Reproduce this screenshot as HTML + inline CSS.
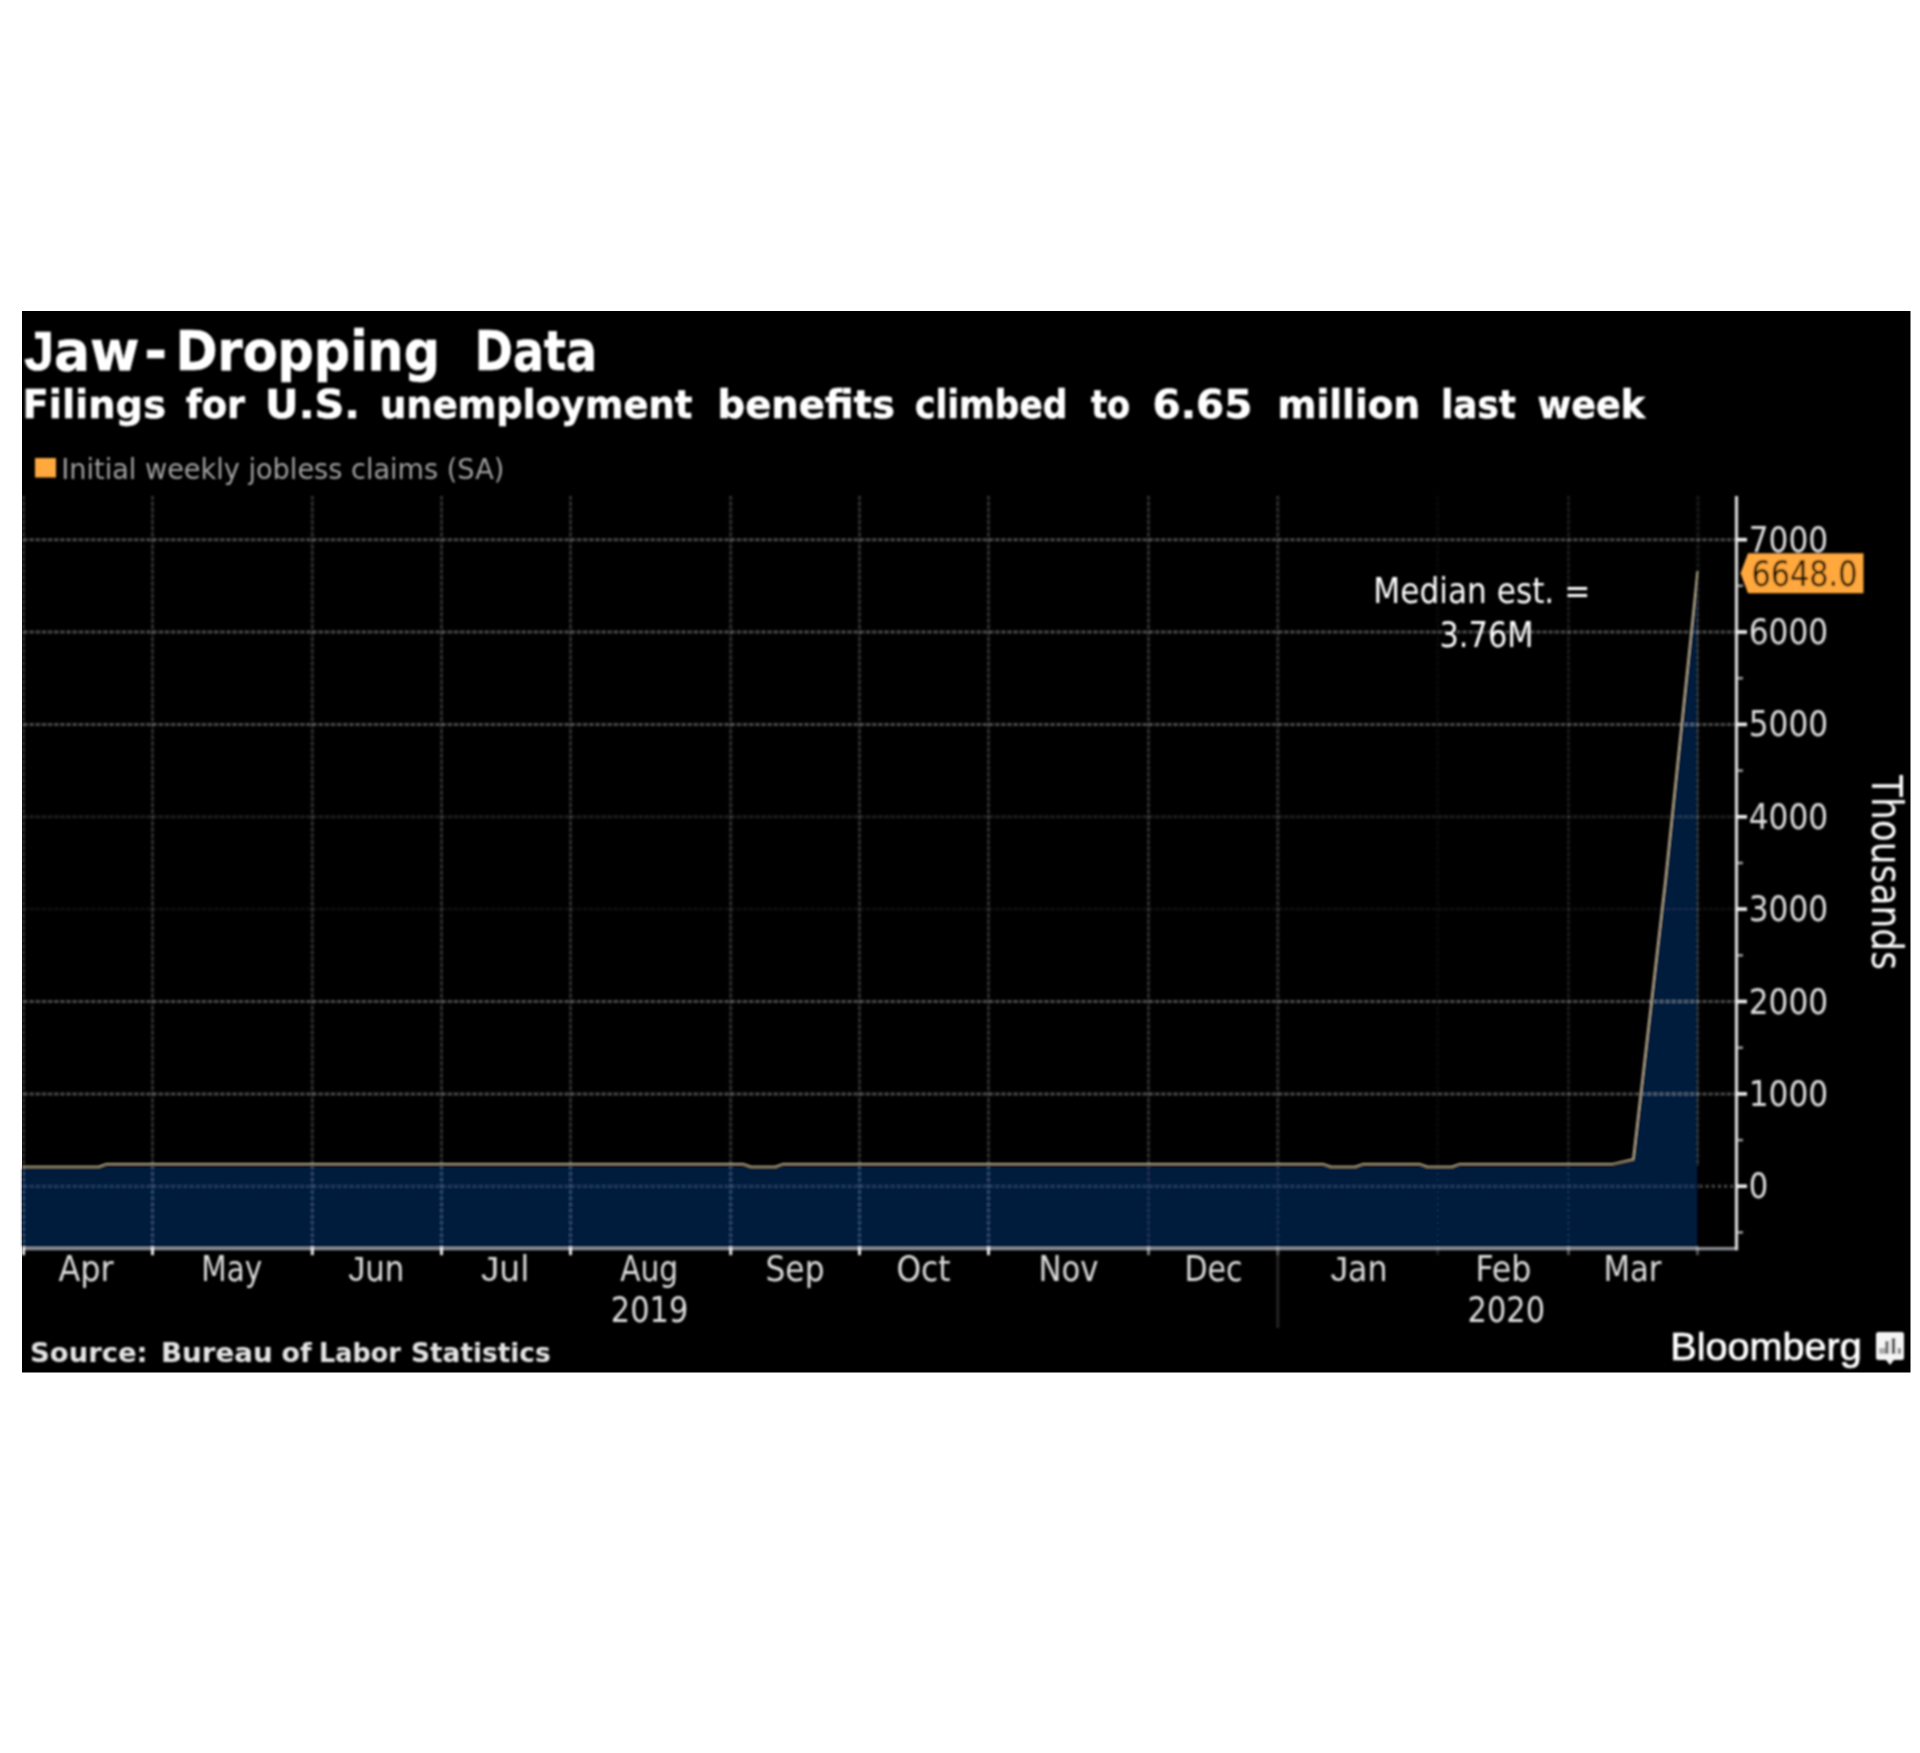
<!DOCTYPE html>
<html lang="en"><head><meta charset="utf-8"><title>Jaw-Dropping Data</title>
<style>html,body{margin:0;padding:0;background:#fff}body{width:1920px;height:1753px;overflow:hidden}svg{display:block}text{font-family:"DejaVu Sans Condensed","DejaVu Sans","Liberation Sans",sans-serif;fill:#dcdcdc}.b{font-family:"DejaVu Sans","Liberation Sans",sans-serif;font-weight:bold;fill:#fff}.ax{font-size:35.5px}</style></head><body>
<svg width="1920" height="1753" viewBox="0 0 1920 1753">
<defs><filter id="bl" x="-5%" y="-5%" width="110%" height="110%"><feGaussianBlur stdDeviation="0.9"/></filter></defs>
<rect x="0" y="0" width="1920" height="1753" fill="#fff"/>
<rect x="22" y="311" width="1888.5" height="1061.5" fill="#000"/>
<g filter="url(#bl)">
<path d="M22.0,1248.7 L22.0,1169.1 L34.1,1169.1 L42.1,1169.1 L66.3,1169.1 L74.3,1169.1 L98.6,1169.1 L106.6,1166.3 L130.8,1166.3 L138.8,1166.3 L163.0,1166.3 L171.0,1166.3 L195.2,1166.3 L203.2,1166.3 L227.4,1166.3 L235.4,1166.3 L259.7,1166.3 L267.7,1166.3 L291.9,1166.3 L299.9,1166.3 L324.1,1166.3 L332.1,1166.3 L356.3,1166.3 L364.3,1166.3 L388.5,1166.3 L396.5,1166.3 L420.8,1166.3 L428.8,1166.3 L453.0,1166.3 L461.0,1166.3 L485.2,1166.3 L493.2,1166.3 L517.4,1166.3 L525.4,1166.3 L549.6,1166.3 L557.6,1166.3 L581.9,1166.3 L589.9,1166.3 L614.1,1166.3 L622.1,1166.3 L646.3,1166.3 L654.3,1166.3 L678.5,1166.3 L686.5,1166.3 L710.8,1166.3 L718.8,1166.3 L743.0,1166.3 L751.0,1169.1 L775.2,1169.1 L783.2,1166.3 L807.4,1166.3 L815.4,1166.3 L839.6,1166.3 L847.6,1166.3 L871.9,1166.3 L879.9,1166.3 L904.1,1166.3 L912.1,1166.3 L936.3,1166.3 L944.3,1166.3 L968.5,1166.3 L976.5,1166.3 L1000.7,1166.3 L1008.7,1166.3 L1033.0,1166.3 L1041.0,1166.3 L1065.2,1166.3 L1073.2,1166.3 L1097.4,1166.3 L1105.4,1166.3 L1129.6,1166.3 L1137.6,1166.3 L1161.9,1166.3 L1169.9,1166.3 L1194.1,1166.3 L1202.1,1166.3 L1226.3,1166.3 L1234.3,1166.3 L1258.5,1166.3 L1266.5,1166.3 L1290.7,1166.3 L1298.7,1166.3 L1323.0,1166.3 L1331.0,1169.1 L1355.2,1169.1 L1363.2,1166.3 L1387.4,1166.3 L1395.4,1166.3 L1419.6,1166.3 L1427.6,1169.1 L1451.8,1169.1 L1459.8,1166.3 L1484.1,1166.3 L1492.1,1166.3 L1516.3,1166.3 L1524.3,1166.3 L1548.5,1166.3 L1556.5,1166.3 L1580.7,1166.3 L1588.7,1166.3 L1612.9,1166.3 L1633.1,1161.6 L1665.3,882.2 L1697.5,573.6 L1697.5,1248.7 Z" fill="#041d3c"/>
<line x1="22" y1="1186.2" x2="1697.5" y2="1186.2" stroke="#9ec0f5" stroke-width="3" opacity="0.06"/>
<line x1="24" y1="1186.2" x2="1697.5" y2="1186.2" stroke="#9ec0f5" stroke-width="3" stroke-dasharray="3 3.15" opacity="0.14"/>
<line x1="1699.5" y1="1186.2" x2="1736.5" y2="1186.2" stroke="#fff" stroke-width="3" stroke-dasharray="3 3.15" opacity="0.3"/>
<line x1="22" y1="1093.9" x2="1736.5" y2="1093.9" stroke="#fff" stroke-width="3" opacity="0.105"/>
<line x1="24" y1="1093.9" x2="1736.5" y2="1093.9" stroke="#fff" stroke-width="3" stroke-dasharray="3 3.15" opacity="0.23"/>
<line x1="22" y1="1001.5" x2="1736.5" y2="1001.5" stroke="#fff" stroke-width="3" opacity="0.105"/>
<line x1="24" y1="1001.5" x2="1736.5" y2="1001.5" stroke="#fff" stroke-width="3" stroke-dasharray="3 3.15" opacity="0.23"/>
<line x1="22" y1="909.1" x2="1736.5" y2="909.1" stroke="#fff" stroke-width="3" opacity="0.025"/>
<line x1="24" y1="909.1" x2="1736.5" y2="909.1" stroke="#fff" stroke-width="3" stroke-dasharray="3 3.15" opacity="0.04"/>
<line x1="22" y1="816.8" x2="1736.5" y2="816.8" stroke="#fff" stroke-width="3" opacity="0.06"/>
<line x1="24" y1="816.8" x2="1736.5" y2="816.8" stroke="#fff" stroke-width="3" stroke-dasharray="3 3.15" opacity="0.07"/>
<line x1="22" y1="724.4" x2="1736.5" y2="724.4" stroke="#fff" stroke-width="3" opacity="0.105"/>
<line x1="24" y1="724.4" x2="1736.5" y2="724.4" stroke="#fff" stroke-width="3" stroke-dasharray="3 3.15" opacity="0.23"/>
<line x1="22" y1="632.0" x2="1736.5" y2="632.0" stroke="#fff" stroke-width="3" opacity="0.105"/>
<line x1="24" y1="632.0" x2="1736.5" y2="632.0" stroke="#fff" stroke-width="3" stroke-dasharray="3 3.15" opacity="0.23"/>
<line x1="22" y1="539.7" x2="1736.5" y2="539.7" stroke="#fff" stroke-width="3" opacity="0.105"/>
<line x1="24" y1="539.7" x2="1736.5" y2="539.7" stroke="#fff" stroke-width="3" stroke-dasharray="3 3.15" opacity="0.23"/>
<line x1="23.5" y1="496" x2="23.5" y2="1166" stroke="#fff" stroke-width="3" opacity="0.078"/>
<line x1="23.5" y1="496" x2="23.5" y2="1166" stroke="#fff" stroke-width="3" stroke-dasharray="3 3.15" opacity="0.12"/>
<line x1="23.5" y1="1166" x2="23.5" y2="1248.7" stroke="#9ec0f5" stroke-width="3" opacity="0.048"/>
<line x1="23.5" y1="1166" x2="23.5" y2="1248.7" stroke="#9ec0f5" stroke-width="3" stroke-dasharray="3 3.15" opacity="0.228"/>
<line x1="152.5" y1="496" x2="152.5" y2="1166" stroke="#fff" stroke-width="3" opacity="0.078"/>
<line x1="152.5" y1="496" x2="152.5" y2="1166" stroke="#fff" stroke-width="3" stroke-dasharray="3 3.15" opacity="0.12"/>
<line x1="152.5" y1="1166" x2="152.5" y2="1248.7" stroke="#9ec0f5" stroke-width="3" opacity="0.048"/>
<line x1="152.5" y1="1166" x2="152.5" y2="1248.7" stroke="#9ec0f5" stroke-width="3" stroke-dasharray="3 3.15" opacity="0.228"/>
<line x1="312.3" y1="496" x2="312.3" y2="1166" stroke="#fff" stroke-width="3" opacity="0.078"/>
<line x1="312.3" y1="496" x2="312.3" y2="1166" stroke="#fff" stroke-width="3" stroke-dasharray="3 3.15" opacity="0.12"/>
<line x1="312.3" y1="1166" x2="312.3" y2="1248.7" stroke="#9ec0f5" stroke-width="3" opacity="0.048"/>
<line x1="312.3" y1="1166" x2="312.3" y2="1248.7" stroke="#9ec0f5" stroke-width="3" stroke-dasharray="3 3.15" opacity="0.228"/>
<line x1="441.5" y1="496" x2="441.5" y2="1166" stroke="#fff" stroke-width="3" opacity="0.078"/>
<line x1="441.5" y1="496" x2="441.5" y2="1166" stroke="#fff" stroke-width="3" stroke-dasharray="3 3.15" opacity="0.12"/>
<line x1="441.5" y1="1166" x2="441.5" y2="1248.7" stroke="#9ec0f5" stroke-width="3" opacity="0.048"/>
<line x1="441.5" y1="1166" x2="441.5" y2="1248.7" stroke="#9ec0f5" stroke-width="3" stroke-dasharray="3 3.15" opacity="0.228"/>
<line x1="570.5" y1="496" x2="570.5" y2="1166" stroke="#fff" stroke-width="3" opacity="0.078"/>
<line x1="570.5" y1="496" x2="570.5" y2="1166" stroke="#fff" stroke-width="3" stroke-dasharray="3 3.15" opacity="0.12"/>
<line x1="570.5" y1="1166" x2="570.5" y2="1248.7" stroke="#9ec0f5" stroke-width="3" opacity="0.048"/>
<line x1="570.5" y1="1166" x2="570.5" y2="1248.7" stroke="#9ec0f5" stroke-width="3" stroke-dasharray="3 3.15" opacity="0.228"/>
<line x1="730.7" y1="496" x2="730.7" y2="1166" stroke="#fff" stroke-width="3" opacity="0.078"/>
<line x1="730.7" y1="496" x2="730.7" y2="1166" stroke="#fff" stroke-width="3" stroke-dasharray="3 3.15" opacity="0.12"/>
<line x1="730.7" y1="1166" x2="730.7" y2="1248.7" stroke="#9ec0f5" stroke-width="3" opacity="0.048"/>
<line x1="730.7" y1="1166" x2="730.7" y2="1248.7" stroke="#9ec0f5" stroke-width="3" stroke-dasharray="3 3.15" opacity="0.228"/>
<line x1="859.5" y1="496" x2="859.5" y2="1166" stroke="#fff" stroke-width="3" opacity="0.078"/>
<line x1="859.5" y1="496" x2="859.5" y2="1166" stroke="#fff" stroke-width="3" stroke-dasharray="3 3.15" opacity="0.12"/>
<line x1="859.5" y1="1166" x2="859.5" y2="1248.7" stroke="#9ec0f5" stroke-width="3" opacity="0.048"/>
<line x1="859.5" y1="1166" x2="859.5" y2="1248.7" stroke="#9ec0f5" stroke-width="3" stroke-dasharray="3 3.15" opacity="0.228"/>
<line x1="988.5" y1="496" x2="988.5" y2="1166" stroke="#fff" stroke-width="3" opacity="0.078"/>
<line x1="988.5" y1="496" x2="988.5" y2="1166" stroke="#fff" stroke-width="3" stroke-dasharray="3 3.15" opacity="0.12"/>
<line x1="988.5" y1="1166" x2="988.5" y2="1248.7" stroke="#9ec0f5" stroke-width="3" opacity="0.048"/>
<line x1="988.5" y1="1166" x2="988.5" y2="1248.7" stroke="#9ec0f5" stroke-width="3" stroke-dasharray="3 3.15" opacity="0.228"/>
<line x1="1148.5" y1="496" x2="1148.5" y2="1166" stroke="#fff" stroke-width="3" opacity="0.078"/>
<line x1="1148.5" y1="496" x2="1148.5" y2="1166" stroke="#fff" stroke-width="3" stroke-dasharray="3 3.15" opacity="0.12"/>
<line x1="1148.5" y1="1166" x2="1148.5" y2="1248.7" stroke="#9ec0f5" stroke-width="3" opacity="0.0216"/>
<line x1="1148.5" y1="1166" x2="1148.5" y2="1248.7" stroke="#9ec0f5" stroke-width="3" stroke-dasharray="3 3.15" opacity="0.1026"/>
<line x1="1277.8" y1="496" x2="1277.8" y2="1166" stroke="#fff" stroke-width="3" opacity="0.078"/>
<line x1="1277.8" y1="496" x2="1277.8" y2="1166" stroke="#fff" stroke-width="3" stroke-dasharray="3 3.15" opacity="0.12"/>
<line x1="1277.8" y1="1166" x2="1277.8" y2="1248.7" stroke="#9ec0f5" stroke-width="3" opacity="0.0216"/>
<line x1="1277.8" y1="1166" x2="1277.8" y2="1248.7" stroke="#9ec0f5" stroke-width="3" stroke-dasharray="3 3.15" opacity="0.1026"/>
<line x1="1437.7" y1="496" x2="1437.7" y2="1166" stroke="#fff" stroke-width="3" opacity="0.01625"/>
<line x1="1437.7" y1="496" x2="1437.7" y2="1166" stroke="#fff" stroke-width="3" stroke-dasharray="3 3.15" opacity="0.025"/>
<line x1="1437.7" y1="1166" x2="1437.7" y2="1248.7" stroke="#9ec0f5" stroke-width="3" opacity="0.0045"/>
<line x1="1437.7" y1="1166" x2="1437.7" y2="1248.7" stroke="#9ec0f5" stroke-width="3" stroke-dasharray="3 3.15" opacity="0.021375"/>
<line x1="1568.5" y1="496" x2="1568.5" y2="1166" stroke="#fff" stroke-width="3" opacity="0.04225"/>
<line x1="1568.5" y1="496" x2="1568.5" y2="1166" stroke="#fff" stroke-width="3" stroke-dasharray="3 3.15" opacity="0.065"/>
<line x1="1568.5" y1="1166" x2="1568.5" y2="1248.7" stroke="#9ec0f5" stroke-width="3" opacity="0.0117"/>
<line x1="1568.5" y1="1166" x2="1568.5" y2="1248.7" stroke="#9ec0f5" stroke-width="3" stroke-dasharray="3 3.15" opacity="0.055575"/>
<line x1="1698" y1="496" x2="1698" y2="1166" stroke="#fff" stroke-width="3" opacity="0.04225"/>
<line x1="1698" y1="496" x2="1698" y2="1166" stroke="#fff" stroke-width="3" stroke-dasharray="3 3.15" opacity="0.065"/>
<line x1="1277.8" y1="1254.7" x2="1277.8" y2="1328" stroke="#fff" stroke-width="3" opacity="0.14"/>
<polyline points="22.0,1166.7 34.1,1166.7 42.1,1166.7 66.3,1166.7 74.3,1166.7 98.6,1166.7 106.6,1163.9 130.8,1163.9 138.8,1163.9 163.0,1163.9 171.0,1163.9 195.2,1163.9 203.2,1163.9 227.4,1163.9 235.4,1163.9 259.7,1163.9 267.7,1163.9 291.9,1163.9 299.9,1163.9 324.1,1163.9 332.1,1163.9 356.3,1163.9 364.3,1163.9 388.5,1163.9 396.5,1163.9 420.8,1163.9 428.8,1163.9 453.0,1163.9 461.0,1163.9 485.2,1163.9 493.2,1163.9 517.4,1163.9 525.4,1163.9 549.6,1163.9 557.6,1163.9 581.9,1163.9 589.9,1163.9 614.1,1163.9 622.1,1163.9 646.3,1163.9 654.3,1163.9 678.5,1163.9 686.5,1163.9 710.8,1163.9 718.8,1163.9 743.0,1163.9 751.0,1166.7 775.2,1166.7 783.2,1163.9 807.4,1163.9 815.4,1163.9 839.6,1163.9 847.6,1163.9 871.9,1163.9 879.9,1163.9 904.1,1163.9 912.1,1163.9 936.3,1163.9 944.3,1163.9 968.5,1163.9 976.5,1163.9 1000.7,1163.9 1008.7,1163.9 1033.0,1163.9 1041.0,1163.9 1065.2,1163.9 1073.2,1163.9 1097.4,1163.9 1105.4,1163.9 1129.6,1163.9 1137.6,1163.9 1161.9,1163.9 1169.9,1163.9 1194.1,1163.9 1202.1,1163.9 1226.3,1163.9 1234.3,1163.9 1258.5,1163.9 1266.5,1163.9 1290.7,1163.9 1298.7,1163.9 1323.0,1163.9 1331.0,1166.7 1355.2,1166.7 1363.2,1163.9 1387.4,1163.9 1395.4,1163.9 1419.6,1163.9 1427.6,1166.7 1451.8,1166.7 1459.8,1163.9 1484.1,1163.9 1492.1,1163.9 1516.3,1163.9 1524.3,1163.9 1548.5,1163.9 1556.5,1163.9 1580.7,1163.9 1588.7,1163.9 1612.9,1163.9 1633.1,1159.2 1665.3,879.8 1697.5,571.2" fill="none" stroke="#b9ac8c" stroke-width="2.0" stroke-linejoin="round"/>
<line x1="22" y1="1248.7" x2="1738.1" y2="1248.7" stroke="#8a8e96" stroke-width="3.2"/>
<line x1="1736.5" y1="496" x2="1736.5" y2="1250.3" stroke="#d6d6d6" stroke-width="3.2"/>
<line x1="23.5" y1="1246.7" x2="23.5" y2="1255.2" stroke="#e6e6e6" stroke-width="3" opacity="1"/>
<line x1="152.5" y1="1246.7" x2="152.5" y2="1255.2" stroke="#e6e6e6" stroke-width="3" opacity="1"/>
<line x1="312.3" y1="1246.7" x2="312.3" y2="1255.2" stroke="#e6e6e6" stroke-width="3" opacity="1"/>
<line x1="441.5" y1="1246.7" x2="441.5" y2="1255.2" stroke="#e6e6e6" stroke-width="3" opacity="1"/>
<line x1="570.5" y1="1246.7" x2="570.5" y2="1255.2" stroke="#e6e6e6" stroke-width="3" opacity="1"/>
<line x1="730.7" y1="1246.7" x2="730.7" y2="1255.2" stroke="#e6e6e6" stroke-width="3" opacity="1"/>
<line x1="859.5" y1="1246.7" x2="859.5" y2="1255.2" stroke="#e6e6e6" stroke-width="3" opacity="1"/>
<line x1="988.5" y1="1246.7" x2="988.5" y2="1255.2" stroke="#e6e6e6" stroke-width="3" opacity="1"/>
<line x1="1148.5" y1="1246.7" x2="1148.5" y2="1255.2" stroke="#e6e6e6" stroke-width="3" opacity="0.55"/>
<line x1="1277.8" y1="1246.7" x2="1277.8" y2="1255.2" stroke="#e6e6e6" stroke-width="3" opacity="0.35"/>
<line x1="1437.7" y1="1246.7" x2="1437.7" y2="1255.2" stroke="#e6e6e6" stroke-width="3" opacity="0.12"/>
<line x1="1568.5" y1="1246.7" x2="1568.5" y2="1255.2" stroke="#e6e6e6" stroke-width="3" opacity="0.35"/>
<line x1="1697.5" y1="1246.7" x2="1697.5" y2="1255.2" stroke="#e6e6e6" stroke-width="3" opacity="0.35"/>
<line x1="1736.5" y1="1186.2" x2="1747" y2="1186.2" stroke="#f0f0f0" stroke-width="3.6"/>
<line x1="1736.5" y1="1093.9" x2="1747" y2="1093.9" stroke="#f0f0f0" stroke-width="3.6"/>
<line x1="1736.5" y1="1001.5" x2="1747" y2="1001.5" stroke="#f0f0f0" stroke-width="3.6"/>
<line x1="1736.5" y1="909.1" x2="1747" y2="909.1" stroke="#f0f0f0" stroke-width="3.6"/>
<line x1="1736.5" y1="816.8" x2="1747" y2="816.8" stroke="#f0f0f0" stroke-width="3.6"/>
<line x1="1736.5" y1="724.4" x2="1747" y2="724.4" stroke="#f0f0f0" stroke-width="3.6"/>
<line x1="1736.5" y1="632.0" x2="1747" y2="632.0" stroke="#f0f0f0" stroke-width="3.6"/>
<line x1="1736.5" y1="539.7" x2="1747" y2="539.7" stroke="#f0f0f0" stroke-width="3.6"/>
<line x1="1736.5" y1="1232.4" x2="1743" y2="1232.4" stroke="#cfcfcf" stroke-width="2.6" opacity="0.75"/>
<line x1="1736.5" y1="1140.1" x2="1743" y2="1140.1" stroke="#cfcfcf" stroke-width="2.6" opacity="0.75"/>
<line x1="1736.5" y1="1047.7" x2="1743" y2="1047.7" stroke="#cfcfcf" stroke-width="2.6" opacity="0.75"/>
<line x1="1736.5" y1="955.3" x2="1743" y2="955.3" stroke="#cfcfcf" stroke-width="2.6" opacity="0.75"/>
<line x1="1736.5" y1="863.0" x2="1743" y2="863.0" stroke="#cfcfcf" stroke-width="2.6" opacity="0.75"/>
<line x1="1736.5" y1="770.6" x2="1743" y2="770.6" stroke="#cfcfcf" stroke-width="2.6" opacity="0.75"/>
<line x1="1736.5" y1="678.2" x2="1743" y2="678.2" stroke="#cfcfcf" stroke-width="2.6" opacity="0.75"/>
<line x1="1736.5" y1="585.8" x2="1743" y2="585.8" stroke="#cfcfcf" stroke-width="2.6" opacity="0.75"/>
<text class="ax" x="1748.7" y="1198.2" textLength="19.5" lengthAdjust="spacingAndGlyphs">0</text>
<text class="ax" x="1748.7" y="1105.9" textLength="79.5" lengthAdjust="spacingAndGlyphs">1000</text>
<text class="ax" x="1748.7" y="1013.5" textLength="79.5" lengthAdjust="spacingAndGlyphs">2000</text>
<text class="ax" x="1748.7" y="921.1" textLength="79.5" lengthAdjust="spacingAndGlyphs">3000</text>
<text class="ax" x="1748.7" y="828.8" textLength="79.5" lengthAdjust="spacingAndGlyphs">4000</text>
<text class="ax" x="1748.7" y="736.4" textLength="79.5" lengthAdjust="spacingAndGlyphs">5000</text>
<text class="ax" x="1748.7" y="644.0" textLength="79.5" lengthAdjust="spacingAndGlyphs">6000</text>
<text class="ax" x="1748.7" y="551.7" textLength="79.5" lengthAdjust="spacingAndGlyphs">7000</text>
<path d="M1740.5,573.3 L1748,553.3 L1863.5,553.3 L1863.5,593.3 L1748,593.3 Z" fill="#ffa83c"/>
<text class="ax" x="1751.5" y="586.3" textLength="106" lengthAdjust="spacingAndGlyphs" style="fill:#1a0f00">6648.0</text>
<text class="ax" x="1373.3" y="602.5" textLength="217" lengthAdjust="spacingAndGlyphs" style="fill:#fff">Median est. =</text>
<text class="ax" x="1439.5" y="646.5" textLength="94" font-size="37" lengthAdjust="spacingAndGlyphs" style="fill:#fff">3.76M</text>
<text transform="translate(1871.5,775) rotate(90)" x="0" y="0" style="font-size:43px;fill:#fff" textLength="195" lengthAdjust="spacingAndGlyphs">Thousands</text>
<text class="ax" x="58.5" y="1281" textLength="55.2" lengthAdjust="spacingAndGlyphs">Apr</text>
<text class="ax" x="201.3" y="1281" textLength="60.8" lengthAdjust="spacingAndGlyphs">May</text>
<text class="ax" x="348.2" y="1281" textLength="56.1" lengthAdjust="spacingAndGlyphs"><tspan style="font-family:Liberation Sans,sans-serif">J</tspan>un</text>
<text class="ax" x="481" y="1281" textLength="48.3" lengthAdjust="spacingAndGlyphs"><tspan style="font-family:Liberation Sans,sans-serif">J</tspan>ul</text>
<text class="ax" x="620.2" y="1281" textLength="58" lengthAdjust="spacingAndGlyphs">Aug</text>
<text class="ax" x="765.5" y="1281" textLength="59" lengthAdjust="spacingAndGlyphs">Sep</text>
<text class="ax" x="896.5" y="1281" textLength="54" lengthAdjust="spacingAndGlyphs">Oct</text>
<text class="ax" x="1038.5" y="1281" textLength="60" lengthAdjust="spacingAndGlyphs">Nov</text>
<text class="ax" x="1184.5" y="1281" textLength="58" lengthAdjust="spacingAndGlyphs">Dec</text>
<text class="ax" x="1330.5" y="1281" textLength="57" lengthAdjust="spacingAndGlyphs"><tspan style="font-family:Liberation Sans,sans-serif">J</tspan>an</text>
<text class="ax" x="1475.5" y="1281" textLength="56" lengthAdjust="spacingAndGlyphs">Feb</text>
<text class="ax" x="1603.5" y="1281" textLength="58" lengthAdjust="spacingAndGlyphs">Mar</text>
<text class="ax" x="610.8" y="1322" textLength="77.5" lengthAdjust="spacingAndGlyphs">2019</text>
<text class="ax" x="1467.6" y="1322" textLength="77.5" lengthAdjust="spacingAndGlyphs">2020</text>
<text class="b" x="24.2" y="369.8" style="font-size:56px;stroke:#fff;stroke-width:0.6px" textLength="115.3" lengthAdjust="spacingAndGlyphs"><tspan style="font-family:Liberation Sans,sans-serif">J</tspan>aw</text>
<text class="b" x="144.2" y="369.8" style="font-size:56px;stroke:#fff;stroke-width:0.6px" textLength="22.8" lengthAdjust="spacingAndGlyphs">-</text>
<text class="b" x="175.5" y="369.8" style="font-size:56px;stroke:#fff;stroke-width:0.6px" textLength="264.5" lengthAdjust="spacingAndGlyphs">Dropping</text>
<text class="b" x="474.8" y="369.8" style="font-size:56px;stroke:#fff;stroke-width:0.6px" textLength="122.2" lengthAdjust="spacingAndGlyphs">Data</text>
<text class="b" x="22.5" y="418.4" style="font-size:39.2px;stroke:#fff;stroke-width:0.5px" textLength="143.5" lengthAdjust="spacingAndGlyphs">Filings</text>
<text class="b" x="186" y="418.4" style="font-size:39.2px;stroke:#fff;stroke-width:0.5px" textLength="59" lengthAdjust="spacingAndGlyphs">for</text>
<text class="b" x="265" y="418.4" style="font-size:39.2px;stroke:#fff;stroke-width:0.5px" textLength="95" lengthAdjust="spacingAndGlyphs">U.S.</text>
<text class="b" x="380" y="418.4" style="font-size:39.2px;stroke:#fff;stroke-width:0.5px" textLength="312.5" lengthAdjust="spacingAndGlyphs">unemployment</text>
<text class="b" x="717.5" y="418.4" style="font-size:39.2px;stroke:#fff;stroke-width:0.5px" textLength="177.5" lengthAdjust="spacingAndGlyphs">benefits</text>
<text class="b" x="915" y="418.4" style="font-size:39.2px;stroke:#fff;stroke-width:0.5px" textLength="152.5" lengthAdjust="spacingAndGlyphs">climbed</text>
<text class="b" x="1091" y="418.4" style="font-size:39.2px;stroke:#fff;stroke-width:0.5px" textLength="39" lengthAdjust="spacingAndGlyphs">to</text>
<text class="b" x="1152.5" y="418.4" style="font-size:39.2px;stroke:#fff;stroke-width:0.5px" textLength="100" lengthAdjust="spacingAndGlyphs">6.65</text>
<text class="b" x="1277.5" y="418.4" style="font-size:39.2px;stroke:#fff;stroke-width:0.5px" textLength="142.5" lengthAdjust="spacingAndGlyphs">million</text>
<text class="b" x="1441" y="418.4" style="font-size:39.2px;stroke:#fff;stroke-width:0.5px" textLength="75" lengthAdjust="spacingAndGlyphs">last</text>
<text class="b" x="1537.5" y="418.4" style="font-size:39.2px;stroke:#fff;stroke-width:0.5px" textLength="107.5" lengthAdjust="spacingAndGlyphs">week</text>
<rect x="35" y="458" width="21" height="19.5" fill="#ffa83c"/>
<text x="61.3" y="478.5" style="font-size:28px;fill:#a0a0a0" textLength="443" lengthAdjust="spacingAndGlyphs">Initial weekly jobless claims (SA)</text>
<text class="b" x="30" y="1362" style="font-size:26.8px;fill:#e4e4e4" textLength="117.6" lengthAdjust="spacingAndGlyphs">Source:</text>
<text class="b" x="161" y="1362" style="font-size:26.8px;fill:#e4e4e4" textLength="111.6" lengthAdjust="spacingAndGlyphs">Bureau</text>
<text class="b" x="281.5" y="1362" style="font-size:26.8px;fill:#e4e4e4" textLength="30.1" lengthAdjust="spacingAndGlyphs">of</text>
<text class="b" x="319" y="1362" style="font-size:26.8px;fill:#e4e4e4" textLength="81.7" lengthAdjust="spacingAndGlyphs">Labor</text>
<text class="b" x="411" y="1362" style="font-size:26.8px;fill:#e4e4e4" textLength="139.7" lengthAdjust="spacingAndGlyphs">Statistics</text>
<text x="1670.3" y="1359.8" style="font-family:'Liberation Sans',sans-serif;font-size:38.3px;fill:#fff;stroke:#fff;stroke-width:0.7px" textLength="191.5" lengthAdjust="spacingAndGlyphs">Bloomberg</text>
<path d="M1878.5,1332 h23 a2.5,2.5 0 0 1 2.5,2.5 v23 a2.5,2.5 0 0 1 -2.5,2.5 h-7.5 l-4,5 l-4,-5 h-7.5 a2.5,2.5 0 0 1 -2.5,-2.5 v-23 a2.5,2.5 0 0 1 2.5,-2.5 Z" fill="#f4f4f4"/>
<rect x="1879" y="1348" width="6" height="6" fill="#aeaeae"/><rect x="1885.2" y="1341" width="3.4" height="13" fill="#6c6c6c"/><rect x="1891.8" y="1338" width="3.4" height="16" fill="#4c4c4c"/><rect x="1897.8" y="1348" width="3.2" height="6" fill="#858585"/>
</g></svg></body></html>
